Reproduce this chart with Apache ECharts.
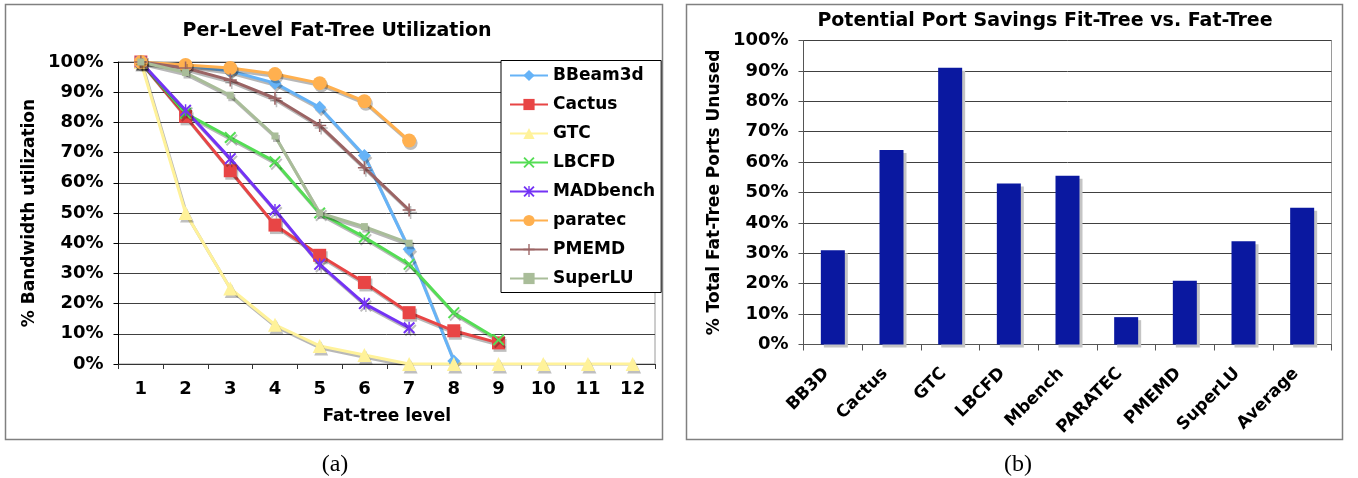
<!DOCTYPE html>
<html>
<head>
<meta charset="utf-8">
<script src="https://cdn.jsdelivr.net/npm/echarts@6/dist/echarts.min.js"></script>
<style>
html,body{margin:0;padding:0;background:#fff;}
#c{width:1358px;height:478px;}
</style>
</head>
<body>
<div id="c"></div>
<script>
// ---- Data: (a) Per-Level Fat-Tree Utilization ----
const levels = ['1','2','3','4','5','6','7','8','9','10','11','12'];
const bbeam3d  = [100, 99, 97, 93, 85, 69, 38, 1];
const cactus   = [100, 82, 64, 46, 36, 27, 17, 11, 7];
const gtc      = [100, 50, 25, 13, 6, 3, 0, 0, 0, 0, 0, 0];
const lbcfd    = [100, 83, 75, 67, 50, 42, 33, 17, 8];
const madbench = [100, 84, 68, 51, 33, 20, 12];
const paratec  = [100, 99, 98, 96, 93, 87, 74];
const pmemd    = [100, 98, 94, 88, 79, 65, 51];
const superlu  = [100, 96.5, 89, 75.5, 50, 45.5, 40];
const lineNames = ['BBeam3d','Cactus','GTC','LBCFD','MADbench','paratec','PMEMD','SuperLU'];

// ---- Data: (b) Potential Port Savings ----
const apps = ['BB3D','Cactus','GTC','LBCFD','Mbench','PARATEC','PMEMD','SuperLU','Average'];
const portsUnused = [31, 64, 91, 53, 55.5, 9, 21, 34, 45];

const FONT = '"DejaVu Sans", Verdana, sans-serif';
const SX = 'path://M0,1.2L1.2,0L5,3.8L8.8,0L10,1.2L6.2,5L10,8.8L8.8,10L5,6.2L1.2,10L0,8.8L3.8,5Z';
const SPLUS = 'path://M4.4,0H5.6V4.4H10V5.6H5.6V10H4.4V5.6H0V4.4H4.4Z';
const SSTAR = 'path://M0,1.2L1.2,0L5,3.8L8.8,0L10,1.2L6.2,5L10,8.8L8.8,10L5,6.2L1.2,10L0,8.8L3.8,5Z M4.4,0H5.6V10H4.4Z';

const lineStyleDefs = [
  {data: bbeam3d,  color: '#66b3f7', symbol: 'diamond',  size: 13},
  {data: cactus,   color: '#e84545', symbol: 'rect',     size: 13},
  {data: gtc,      color: '#fff29a', symbol: 'triangle', size: 14},
  {data: lbcfd,    color: '#55dd55', symbol: SX,         size: 12},
  {data: madbench, color: '#7433f5', symbol: SSTAR,      size: 12},
  {data: paratec,  color: '#ffb04f', symbol: 'circle',   size: 14},
  {data: pmemd,    color: '#9b6464', symbol: SPLUS,      size: 13},
  {data: superlu,  color: '#a9bd99', symbol: 'rect',     size: 7}
];

const lineSeries = lineStyleDefs.map((d, i) => ({
  name: lineNames[i],
  type: 'line',
  xAxisIndex: 0,
  yAxisIndex: 0,
  data: d.data,
  symbol: d.symbol,
  symbolSize: d.size,
  showAllSymbol: true,
  color: d.color,
  lineStyle: {width: 3, color: d.color, shadowColor: 'rgba(0,0,0,0.28)', shadowBlur: 0, shadowOffsetX: 1.5, shadowOffsetY: 2.5},
  itemStyle: {color: d.color, borderWidth: 0, shadowColor: 'rgba(0,0,0,0.25)', shadowBlur: 0, shadowOffsetX: 1.5, shadowOffsetY: 2.5},
  emphasis: {disabled: true},
  z: 3
}));

const axisLabelStyle = {fontFamily: FONT, fontWeight: 'bold', fontSize: 18, color: '#000'};
const axisNameStyle = {fontFamily: FONT, fontWeight: 'bold', fontSize: 17, color: '#000'};

const chart = echarts.init(document.getElementById('c'), null, {renderer: 'canvas'});
chart.setOption({
  animation: false,
  backgroundColor: '#fff',
  textStyle: {fontFamily: FONT},
  grid: [
    {left: 118.5, top: 62, width: 536.5, height: 302, show: true, borderColor: '#9a9a9a', borderWidth: 1, backgroundColor: 'transparent', containLabel: false},
    {left: 803.5, top: 40.5, width: 528, height: 304, show: true, borderColor: '#9a9a9a', borderWidth: 1, backgroundColor: 'transparent', containLabel: false}
  ],
  xAxis: [
    {
      gridIndex: 0, type: 'category', data: levels, boundaryGap: true,
      name: 'Fat-tree level', nameLocation: 'middle', nameGap: 44, nameTextStyle: axisNameStyle,
      axisLine: {lineStyle: {color: '#333', width: 1}},
      axisTick: {show: true, length: 5, lineStyle: {color: '#333'}},
      axisLabel: Object.assign({margin: 16, interval: 0}, axisLabelStyle),
      splitLine: {show: false}
    },
    {
      gridIndex: 1, type: 'category', data: apps, boundaryGap: true,
      axisLine: {lineStyle: {color: '#555', width: 1}},
      axisTick: {show: true, length: 6, lineStyle: {color: '#555'}},
      axisLabel: Object.assign({margin: 20, interval: 0, rotate: 45, padding: [0, 9, 0, 0]}, axisLabelStyle, {fontSize: 17}),
      splitLine: {show: false}
    }
  ],
  yAxis: [
    {
      gridIndex: 0, type: 'value', min: 0, max: 100, interval: 10,
      name: '% Bandwidth utilization', nameLocation: 'middle', nameGap: 80, nameRotate: 90, nameTextStyle: axisNameStyle,
      axisLine: {show: true, lineStyle: {color: '#000', width: 1}},
      axisTick: {show: true, length: 5, lineStyle: {color: '#000'}},
      axisLabel: Object.assign({margin: 15, formatter: '{value}%'}, axisLabelStyle),
      splitLine: {show: true, lineStyle: {color: '#404040', width: 1}}
    },
    {
      gridIndex: 1, type: 'value', min: 0, max: 100, interval: 10,
      name: '% Total Fat-Tree Ports Unused', nameLocation: 'middle', nameGap: 80, nameRotate: 90, nameTextStyle: axisNameStyle,
      axisLine: {show: true, lineStyle: {color: '#555', width: 1}},
      axisTick: {show: true, length: 5, lineStyle: {color: '#555'}},
      axisLabel: Object.assign({margin: 15, formatter: '{value}%'}, axisLabelStyle),
      splitLine: {show: true, lineStyle: {color: '#404040', width: 1}}
    }
  ],
  legend: {
    orient: 'vertical', left: 501, top: 60.5,
    itemWidth: 38, itemHeight: 14, itemGap: 9,
    padding: [5, 6, 4, 8],
    borderColor: '#000', borderWidth: 1, borderRadius: 0, backgroundColor: '#fff',
    textStyle: {fontFamily: FONT, fontWeight: 'bold', fontSize: 17, color: '#000', lineHeight: 20},
    data: lineNames,
    z: 10
  },
  series: lineSeries.concat([{
    name: 'Ports Unused',
    type: 'bar',
    xAxisIndex: 1,
    yAxisIndex: 1,
    data: portsUnused,
    barWidth: 24,
    itemStyle: {color: '#0a18a0', shadowColor: '#c4c4c4', shadowBlur: 0, shadowOffsetX: 3, shadowOffsetY: 3},
    emphasis: {disabled: true}
  }]),
  graphic: [
    {type: 'rect', silent: true, z: -10, shape: {x: 5.5, y: 4.5, width: 657, height: 435}, style: {fill: 'none', stroke: '#808080', lineWidth: 1.5}},
    {type: 'rect', silent: true, z: -10, shape: {x: 686.5, y: 4.5, width: 656, height: 435}, style: {fill: 'none', stroke: '#808080', lineWidth: 1.5}},
    {type: 'text', silent: true, x: 337, y: 31, style: {text: 'Per-Level Fat-Tree Utilization', font: 'bold 19px ' + FONT, fill: '#000', align: 'center', verticalAlign: 'middle', textAlign: 'center', textVerticalAlign: 'middle'}},
    {type: 'text', silent: true, x: 1045, y: 21, style: {text: 'Potential Port Savings Fit-Tree vs. Fat-Tree', font: 'bold 19px ' + FONT, fill: '#000', align: 'center', verticalAlign: 'middle', textAlign: 'center', textVerticalAlign: 'middle'}},
    {type: 'text', silent: true, x: 335, y: 465, style: {text: '(a)', font: '24px "Liberation Serif", "Times New Roman", serif', fill: '#000', align: 'center', verticalAlign: 'middle', textAlign: 'center', textVerticalAlign: 'middle'}},
    {type: 'text', silent: true, x: 1018, y: 465, style: {text: '(b)', font: '24px "Liberation Serif", "Times New Roman", serif', fill: '#000', align: 'center', verticalAlign: 'middle', textAlign: 'center', textVerticalAlign: 'middle'}}
  ]
});
</script>
</body>
</html>
